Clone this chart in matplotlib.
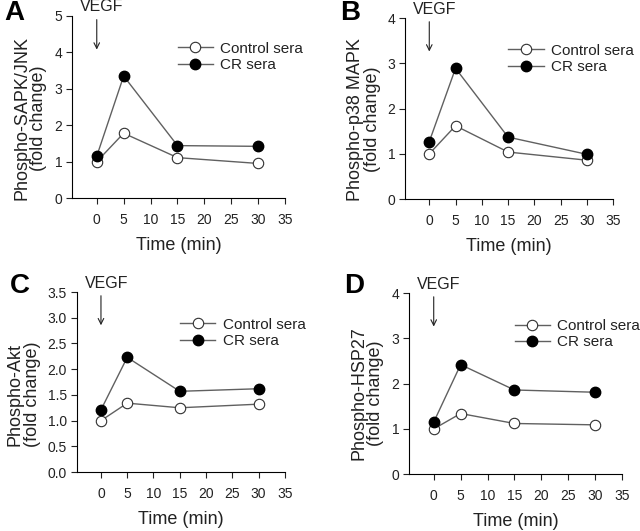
import numpy as np
import matplotlib
matplotlib.use("Agg")
import matplotlib.pyplot as plt

plt.rcParams['font.family'] = ['Liberation Sans', 'DejaVu Sans']

time = [0, 5, 15, 30]

# panel A - SAPK/JNK
jnk_control = [1.0, 1.78, 1.11, 0.95]
jnk_cr = [1.15, 3.35, 1.44, 1.42]

# panel B - p38 MAPK
p38_control = [1.0, 1.62, 1.04, 0.86]
p38_cr = [1.27, 2.89, 1.37, 0.99]

# panel C - Akt
akt_control = [1.0, 1.34, 1.25, 1.32]
akt_cr = [1.21, 2.23, 1.57, 1.62]

# panel D - HSP27
hsp_control = [1.0, 1.34, 1.12, 1.09]
hsp_cr = [1.15, 2.42, 1.86, 1.81]

panels = [
    ("A", "Phospho-SAPK/JNK\n(fold change)", jnk_control, jnk_cr, 5, [0, 1, 2, 3, 4, 5], "%d"),
    ("B", "Phospho-p38 MAPK\n(fold change)", p38_control, p38_cr, 4, [0, 1, 2, 3, 4], "%d"),
    ("C", "Phospho-Akt\n(fold change)", akt_control, akt_cr, 3.5, np.arange(0, 3.51, 0.5), "%.1f"),
    ("D", "Phospho-HSP27\n(fold change)", hsp_control, hsp_cr, 4, [0, 1, 2, 3, 4], "%d"),
]

# axes rectangles in figure fraction
rects = [
    [0.1125, 0.627, 0.333, 0.343],
    [0.633, 0.625, 0.325, 0.341],
    [0.120, 0.111, 0.325, 0.339],
    [0.639, 0.107, 0.333, 0.341],
]
letter_pos = [(0.006, 0.962), (0.532, 0.962), (0.015, 0.448), (0.537, 0.448)]
ylabel_y = [0.44, 0.44, 0.43, 0.445]

txt = '#222222'
fig = plt.figure(figsize=(6.4, 5.31), dpi=100)

for (letter, ylab, ctrl, cr, ymax, yticks, fmt), rect, lp, ly in zip(panels, rects, letter_pos, ylabel_y):
    ax = fig.add_axes(rect)
    ax.plot(time, ctrl, '-o', color='#606060', lw=1, mfc='white', mec='#303030',
            mew=0.8, ms=7.5, label='Control sera', zorder=3)
    ax.plot(time, cr, '-o', color='#606060', lw=1, mfc='black', mec='black',
            ms=7.5, label='CR sera', zorder=3)
    ax.set_xlim(-4.6, 35)
    ax.set_ylim(0, ymax)
    ax.set_xticks(range(0, 36, 5))
    ax.set_yticks(yticks)
    ax.yaxis.set_major_formatter(matplotlib.ticker.FormatStrFormatter(fmt))
    ax.spines['top'].set_visible(False)
    ax.spines['right'].set_visible(False)
    ax.tick_params(axis='x', length=4, pad=7, labelsize=10, colors=txt)
    ax.tick_params(axis='y', length=4, pad=3, labelsize=10, colors=txt)
    ax.set_xlabel("Time (min)", fontsize=13, labelpad=7, color=txt)
    ax.set_ylabel(ylab, fontsize=13, labelpad=5, linespacing=1.0, color=txt)
    ax.yaxis.label.set_y(ly)

    ax.legend(loc='upper left', bbox_to_anchor=(0.46, 0.90), frameon=False,
              fontsize=11, borderpad=0, handlelength=2.3, handletextpad=0.5,
              labelspacing=0.15, labelcolor=txt)

    # VEGF arrow
    ax.annotate('', xy=(0, 0.80), xytext=(0, 0.995),
                xycoords=('data', 'axes fraction'), textcoords=('data', 'axes fraction'),
                arrowprops=dict(arrowstyle='->', lw=0.8, color=txt))
    ax.text(1, 1.05, "VEGF", transform=ax.get_xaxis_transform(), ha='center',
            va='center', fontsize=11.5, color=txt)

    fig.text(lp[0], lp[1], letter, fontsize=20, fontweight='bold', va='baseline')

fig.savefig("out.png", dpi=100)
